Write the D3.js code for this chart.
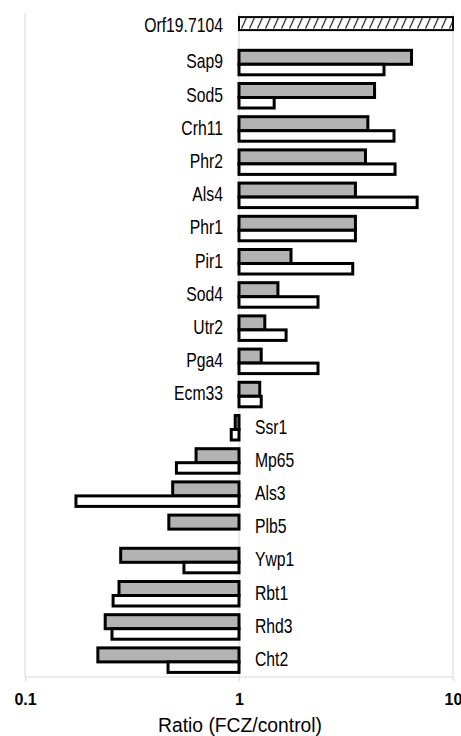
<!DOCTYPE html>
<html>
<head>
<meta charset="utf-8">
<script src="https://cdn.jsdelivr.net/npm/d3@7/dist/d3.min.js"></script>
<style>
  html, body { margin: 0; padding: 0; background: #fff; }
  svg { display: block; }
</style>
</head>
<body>
<div id="chart"></div>
<script>
// ---- data ----
const categories = ["Orf19.7104","Sap9","Sod5","Crh11","Phr2","Als4","Phr1","Pir1","Sod4","Utr2",
  "Pga4","Ecm33","Ssr1","Mp65","Als3","Plb5","Ywp1","Rbt1","Rhd3","Cht2"];
const hatchedValues = [10, null, null, null, null, null, null, null, null, null,
  null, null, null, null, null, null, null, null, null, null];
const grayValues = [null, 6.4, 4.3, 4.0, 3.9, 3.5, 3.5, 1.75, 1.52, 1.32,
  1.27, 1.25, 0.96, 0.63, 0.49, 0.47, 0.28, 0.275, 0.237, 0.219];
const whiteValues = [null, 4.76, 1.46, 5.3, 5.36, 6.8, 3.5, 3.4, 2.34, 1.66,
  2.34, 1.27, 0.92, 0.51, 0.173, null, 0.553, 0.258, 0.255, 0.466];
const tickValues = [0.1, 1, 10];
const tickLabels = ["0.1", "1", "10"];
const axisTitle = "Ratio (FCZ/control)";

// ---- layout ----
const W = 461, H = 736;
const plot = { left: 25, right: 453, top: 13, bottom: 677 };
const labelFont = "'Liberation Sans', Arial, sans-serif";

const svg = d3.select("#chart").append("svg")
  .attr("width", W).attr("height", H);

const x = d3.scaleLog().domain([0.1, 10]).range([plot.left, plot.right]);
const y = d3.scaleBand().domain(categories).range([plot.top, plot.bottom]).padding(0);

// hatch pattern
const defs = svg.append("defs");
const pat = defs.append("pattern")
  .attr("id", "hatch")
  .attr("patternUnits", "userSpaceOnUse")
  .attr("width", 8).attr("height", 13)
  .attr("y", y(categories[0]) + y.bandwidth() / 2 - 13);
pat.append("rect").attr("width", 8).attr("height", 13).attr("fill", "#fff");
pat.append("line")
  .attr("x1", 1.5).attr("y1", 12).attr("x2", 6.5).attr("y2", 1)
  .attr("stroke", "#222").attr("stroke-width", 1.2);

// gridlines
const gridColor = "#d9d9d9";
svg.append("g").selectAll("line").data(tickValues).join("line")
  .attr("x1", d => x(d)).attr("x2", d => x(d))
  .attr("y1", plot.top).attr("y2", plot.bottom)
  .attr("stroke", gridColor).attr("stroke-width", 1);

// bottom axis
const axis = d3.axisBottom(x).tickValues(tickValues).tickSize(4)
  .tickFormat((d, i) => tickLabels[i]);
const gAxis = svg.append("g").attr("transform", `translate(0,${plot.bottom})`).call(axis);
gAxis.attr("font-size", null).attr("font-family", null);
gAxis.select(".domain").attr("stroke", gridColor).attr("stroke-width", 1.2)
  .attr("d", `M${plot.left},0H${plot.right}`);
gAxis.selectAll(".tick line").attr("stroke", gridColor).attr("stroke-width", 1.2);
gAxis.selectAll(".tick text")
  .attr("y", 28).attr("dy", 0)
  .style("font-family", "'Liberation Sans', Arial, sans-serif")
  .style("font-weight", "bold").style("font-size", "16px").attr("fill", "#000");

svg.append("text")
  .attr("transform", `translate(${(plot.left + plot.right) / 2 + 1},732) scale(0.92,1)`)
  .attr("text-anchor", "middle")
  .style("font-family", labelFont).style("font-size", "21px").attr("fill", "#000")
  .text(axisTitle);

// bars
const center = c => y(c) + y.bandwidth() / 2;
const barsG = svg.append("g");
function drawBars(values, y0, y1, fill, sw) {
  const rows = categories.map((c, i) => ({ c, v: values[i] })).filter(d => d.v != null);
  barsG.selectAll(null).data(rows).join("rect")
    .attr("x", d => Math.min(x(1), x(d.v)))
    .attr("width", d => Math.abs(x(d.v) - x(1)))
    .attr("y", d => center(d.c) + y0)
    .attr("height", y1 - y0)
    .attr("fill", fill).attr("stroke", "#000").attr("stroke-width", sw);
}
drawBars(hatchedValues, -12.5, 0.5, "url(#hatch)", 2);
drawBars(grayValues, -12.5, 1.5, "#b3b3b3", 3);
drawBars(whiteValues, 1.5, 12, "#ffffff", 3);

// category labels
const isUp = i => (grayValues[i] != null ? grayValues[i] : hatchedValues[i]) >= 1;
svg.append("g").selectAll("text").data(categories).join("text")
  .attr("transform", (c, i) => {
    const tx = isUp(i) ? x(1) - 16 : x(1) + 16;
    const ty = center(c) + (i === 0 ? 2.5 : 5.5);
    return `translate(${tx},${ty}) scale(0.75,1)`;
  })
  .attr("text-anchor", (c, i) => isUp(i) ? "end" : "start")
  .style("font-family", labelFont).style("font-size", "21px").attr("fill", "#000")
  .text(c => c);
</script>
</body>
</html>
